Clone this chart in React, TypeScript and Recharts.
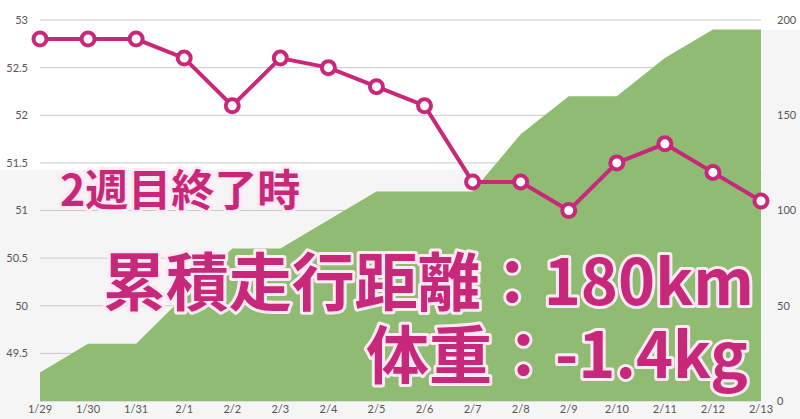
import { ComposedChart, Area, Line, XAxis, YAxis, CartesianGrid } from 'recharts'

const dates = ['1/29', '1/30', '1/31', '2/1', '2/2', '2/3', '2/4', '2/5', '2/6', '2/7', '2/8', '2/9', '2/10', '2/11', '2/12', '2/13']
const distance = [15, 30, 30, 55, 80, 80, 95, 110, 110, 110, 140, 160, 160, 180, 195, 195]
const weight = [52.8, 52.8, 52.8, 52.6, 52.1, 52.6, 52.5, 52.3, 52.1, 51.3, 51.3, 51.0, 51.5, 51.7, 51.4, 51.1]
const weightTicks = [49.5, 50, 50.5, 51, 51.5, 52, 52.5, 53]
const distanceTicks = [0, 50, 100, 150, 200]

const data = dates.map((d, i) => ({ date: d, distance: distance[i], weight: weight[i] }))

const MAGENTA = '#c8287a'
const GREEN = '#8fbb73'
const tickStyle = { fill: '#555', fontSize: 11, fontFamily: 'Lato, sans-serif' }

const textStyle = {
  fill: MAGENTA,
  stroke: '#fdeaf3',
  strokeWidth: 6,
  paintOrder: 'stroke',
  strokeLinejoin: 'round' as const,
  fontFamily: '"Noto Sans CJK JP", sans-serif',
  fontWeight: 700
}

export default function App() {
  return (
    <div style={{ position: 'fixed', left: 0, top: 0, width: 800, height: 419, background: '#fff' }}>
      <svg width={800} height={419} style={{ position: 'absolute', left: 0, top: 0 }}>
        <rect x={0} y={170} width={800} height={249} fill="#f5f5f5" />
        <rect x={763} y={30} width={37} height={389} fill="#f5f5f5" />
      </svg>
      <div style={{ position: 'absolute', left: 0, top: 0 }}>
        <ComposedChart width={800} height={419} data={data} margin={{ top: 20, right: 0, bottom: 0, left: 0 }}>
          <CartesianGrid yAxisId="left" vertical={false} stroke="#c8c8c8" />
          <XAxis
            dataKey="date"
            tick={tickStyle}
            axisLine={false}
            tickLine={false}
            tickSize={4}
            tickMargin={0}
            height={18}
            interval={0}
          />
          <YAxis
            yAxisId="left"
            domain={[49, 53]}
            ticks={weightTicks}
            tick={tickStyle}
            axisLine={false}
            tickLine={false}
            tickSize={6}
            tickMargin={6}
            width={40}
          />
          <YAxis
            yAxisId="right"
            orientation="right"
            domain={[0, 200]}
            ticks={distanceTicks}
            tick={{ ...tickStyle, textAnchor: 'start' }}
            axisLine={false}
            tickLine={false}
            tickSize={6}
            tickMargin={10}
            width={39}
          />
          <Area
            yAxisId="right"
            type="linear"
            dataKey="distance"
            fill={GREEN}
            fillOpacity={1}
            stroke="none"
            isAnimationActive={false}
          />
          <Line
            yAxisId="left"
            type="linear"
            dataKey="weight"
            stroke={MAGENTA}
            strokeWidth={4}
            dot={{ r: 6.5, fill: '#fff', stroke: MAGENTA, strokeWidth: 4 }}
            isAnimationActive={false}
          />
        </ComposedChart>
      </div>
      <svg width={800} height={419} style={{ position: 'absolute', left: 0, top: 0, pointerEvents: 'none' }}>
        <text x={60} y={206} fontSize={43} style={textStyle}>2週目終了時</text>
        <text x={754} y={305} fontSize={63} textAnchor="end" style={textStyle}>累積走行距離：180km</text>
        <text x={748} y={378} fontSize={63} textAnchor="end" style={textStyle}>体重：-1.4kg</text>
      </svg>
    </div>
  )
}
